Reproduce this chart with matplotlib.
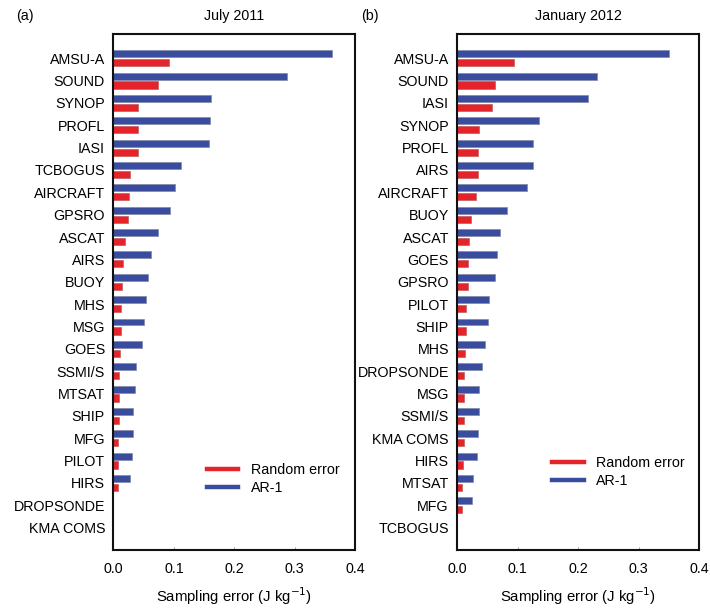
import matplotlib
matplotlib.use("Agg")
import matplotlib.pyplot as plt
import numpy as np
from matplotlib.lines import Line2D

plt.rcParams['font.family'] = ['Liberation Sans', 'DejaVu Sans']

# (a) July 2011
jul_obs = ["AMSU-A", "SOUND", "SYNOP", "PROFL", "IASI", "TCBOGUS", "AIRCRAFT",
           "GPSRO", "ASCAT", "AIRS", "BUOY", "MHS", "MSG", "GOES", "SSMI/S",
           "MTSAT", "SHIP", "MFG", "PILOT", "HIRS", "DROPSONDE", "KMA COMS"]
jul_ar1 = [0.361, 0.287, 0.162, 0.159, 0.158, 0.112, 0.102, 0.094, 0.074,
           0.063, 0.057, 0.054, 0.051, 0.047, 0.038, 0.035, 0.033, 0.032,
           0.031, 0.027, 0.0, 0.0]
jul_rand = [0.092, 0.073, 0.041, 0.040, 0.040, 0.028, 0.026, 0.024, 0.019,
            0.016, 0.014, 0.013, 0.012, 0.011, 0.0095, 0.009, 0.0085, 0.0082,
            0.0075, 0.007, 0.0, 0.0]

# (b) January 2012
jan_obs = ["AMSU-A", "SOUND", "IASI", "SYNOP", "PROFL", "AIRS", "AIRCRAFT",
           "BUOY", "ASCAT", "GOES", "GPSRO", "PILOT", "SHIP", "MHS",
           "DROPSONDE", "MSG", "SSMI/S", "KMA COMS", "HIRS", "MTSAT", "MFG",
           "TCBOGUS"]
jan_ar1 = [0.350, 0.231, 0.217, 0.135, 0.126, 0.125, 0.116, 0.083, 0.070,
           0.066, 0.063, 0.052, 0.051, 0.046, 0.041, 0.036, 0.036, 0.035,
           0.033, 0.026, 0.025, 0.0]
jan_rand = [0.094, 0.062, 0.058, 0.036, 0.034, 0.034, 0.031, 0.023, 0.019,
            0.018, 0.017, 0.014, 0.014, 0.013, 0.011, 0.0105, 0.0105, 0.0105,
            0.0095, 0.0072, 0.0072, 0.0]

xticks = [0.0, 0.1, 0.2, 0.3, 0.4]
panels = [("(a)", "July 2011", jul_obs, jul_ar1, jul_rand),
          ("(b)", "January 2012", jan_obs, jan_ar1, jan_rand)]

BLUE = "#3a4c9e"
RED = "#e5232b"
FS = 10.3

fig = plt.figure(figsize=(7.10, 6.09), dpi=100)
axes_rects = [[0.1597, 0.0969, 0.3408, 0.8473],
              [0.6441, 0.0969, 0.3404, 0.8473]]
legend_anchor = [(0.385, 0.168), (0.392, 0.182)]
letter_x = [0.035, 0.521]

for k, (letter, title, obs, ar1, rand) in enumerate(panels):
    ax = fig.add_axes(axes_rects[k])
    y = np.arange(len(obs))
    ax.barh(y - 0.2, ar1, height=0.31, color=BLUE, edgecolor="#8088a8",
            linewidth=0.5)
    ax.barh(y + 0.2, rand, height=0.32, color=RED, edgecolor="#b05050",
            linewidth=0.4)
    ax.set_ylim(22.0, -1.085)
    ax.set_xlim(0, 0.4)
    ax.set_yticks(y)
    ax.set_yticklabels(obs, fontsize=FS)
    ax.set_xticks(xticks)
    ax.set_xticklabels([f"{t:.1f}" for t in xticks], fontsize=FS)
    ax.tick_params(axis="y", length=0, pad=6)
    ax.tick_params(axis="x", direction="in", length=2.5, width=0.6,
                   color="#888888", pad=9)
    for s in ax.spines.values():
        s.set_linewidth(1.5)
        s.set_color("#111111")
    ax.set_xlabel("Sampling error (J kg$^{-1}$)", fontsize=10.7,
                  labelpad=6)
    handles = [Line2D([], [], color=RED, lw=3.2),
               Line2D([], [], color=BLUE, lw=3.2)]
    ax.legend(handles, ["Random error", "AR-1"], loc="upper left",
              bbox_to_anchor=legend_anchor[k], frameon=False, fontsize=FS,
              borderpad=0, borderaxespad=0, handlelength=2.2,
              handletextpad=0.9, labelspacing=0.26)
    cx = axes_rects[k][0] + axes_rects[k][2] / 2
    fig.text(cx, 0.974, title, ha="center", va="center", fontsize=FS)
    fig.text(letter_x[k], 0.974, letter, ha="center", va="center",
             fontsize=FS)

fig.savefig("out.png", dpi=100)
